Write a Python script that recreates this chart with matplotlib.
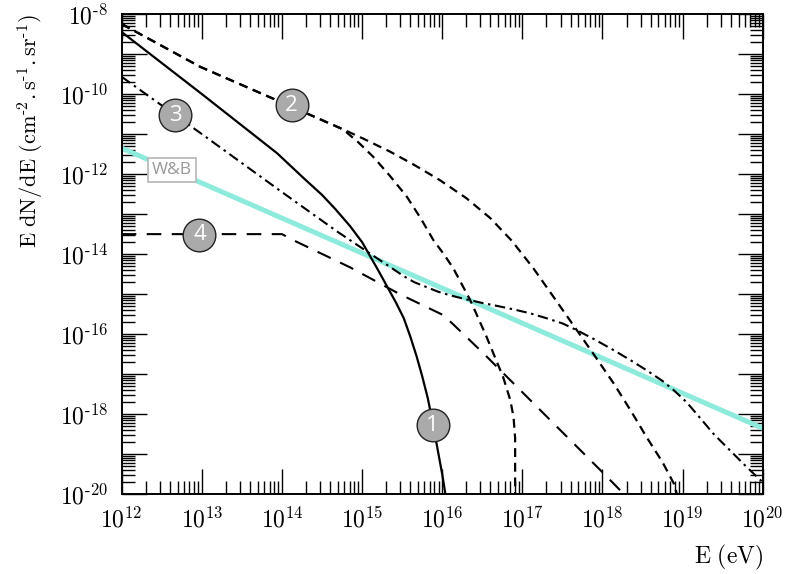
import numpy as np
import matplotlib
matplotlib.use('Agg')
import matplotlib.pyplot as plt
from matplotlib.ticker import FixedLocator, LogLocator, FuncFormatter, NullFormatter

plt.rcParams['mathtext.fontset'] = 'cm'

# curves, as log10(E / eV) and log10(E dN/dE)
logE1 = [12.0, 13.0, 13.94, 14.27, 14.5, 14.66, 14.85, 15.0, 15.10, 15.2, 15.31, 15.42, 15.52,
         15.6, 15.68, 15.75, 15.82, 15.88, 15.94, 16.0, 16.04]
logF1 = [-8.45, -10.0, -11.48, -12.1, -12.52, -12.86, -13.3, -13.7, -14.05, -14.4, -14.8, -15.2, -15.6,
         -16.05, -16.55, -17.05, -17.6, -18.2, -18.85, -19.5, -20.0]

logE2a = [12.0, 12.98, 13.93, 14.76, 15.0, 15.35, 15.65, 15.97, 16.3, 16.6, 16.87, 17.14, 17.4,
          17.68, 17.9, 18.14, 18.35, 18.55, 18.75, 18.89, 18.93]
logF2a = [-8.25, -9.32, -10.15, -10.88, -11.1, -11.44, -11.77, -12.15, -12.6, -13.1, -13.67, -14.36, -15.1,
          -15.9, -16.53, -17.23, -17.9, -18.57, -19.2, -19.73, -20.0]

logE2b = [12.0, 12.98, 13.93, 14.76, 14.95, 15.14, 15.35, 15.56, 15.73, 15.89, 16.02, 16.14, 16.35,
          16.55, 16.76, 16.85, 16.89, 16.91, 16.91]
logF2b = [-8.25, -9.32, -10.15, -10.88, -11.2, -11.57, -12.05, -12.57, -13.1, -13.65, -14.0, -14.36, -15.15,
          -16.05, -17.07, -17.65, -18.07, -18.6, -20.0]

logE3 = [12.0, 13.0, 14.0, 14.7, 15.2, 15.52, 15.65, 15.8, 15.95, 16.1, 16.3, 16.5, 16.7, 16.89, 17.1,
         17.3, 17.5, 17.68, 17.9, 18.14, 18.35, 18.55, 18.75, 18.89, 19.05, 19.2, 19.39, 19.6, 19.8, 20.0]
logF3 = [-9.57, -11.0, -12.45, -13.45, -14.12, -14.55, -14.7, -14.82, -14.94, -15.03, -15.13, -15.22, -15.3,
         -15.38, -15.48, -15.6, -15.73, -15.9, -16.13, -16.4, -16.65, -16.9, -17.17, -17.4, -17.7, -18.05,
         -18.5, -18.92, -19.32, -19.7]

logE4 = [12.0, 14.0, 14.14, 14.85, 15.47, 16.02, 16.5, 17.0, 17.5, 18.0, 18.27]
logF4 = [-13.5, -13.5, -13.65, -14.33, -15.0, -15.53, -16.45, -17.45, -18.45, -19.45, -20.0]

logE_wb = [12.0, 20.0]
logF_wb = [-11.35, -18.35]

# numbered markers and the W&B tag
marker_text = ['1', '2', '3', '4']
marker_logE = [15.88, 14.12, 12.67, 12.97]
marker_logF = [-18.28, -10.28, -10.53, -13.51]
wb_logE, wb_logF = 12.63, -11.89

p = lambda a: np.power(10.0, np.array(a))

fig = plt.figure(figsize=(7.95, 5.74), dpi=100)
ax = fig.add_axes([0.1531, 0.1389, 0.8063, 0.8367])
ax.set_xscale('log')
ax.set_yscale('log')

ax.plot(p(logE_wb), p(logF_wb), color='#8eebdc', lw=3.6, solid_capstyle='butt', zorder=2)
ax.plot(p(logE1), p(logF1), color='black', lw=1.6, zorder=3)
ax.plot(p(logE2a), p(logF2a), color='black', lw=1.6, dashes=(4, 2.6), zorder=3)
ax.plot(p(logE2b), p(logF2b), color='black', lw=1.6, dashes=(4, 2.6), zorder=3)
ax.plot(p(logE3), p(logF3), color='black', lw=1.5, dashes=(5, 2.2, 1.2, 2.2), zorder=3)
ax.plot(p(logE4), p(logF4), color='black', lw=1.5, dashes=(7, 5), zorder=3)

for t, xe, yf in zip(marker_text, marker_logE, marker_logF):
    ax.plot(10**xe, 10**yf, 'o', ms=23.5, mfc='#aaaaaa', mec='#222222', mew=1.0, zorder=5)
    ax.text(10**xe, 10**yf, t, color='white', fontsize=16, family='Open Sans',
            ha='center', va='center', zorder=6)

ax.text(10**wb_logE, 10**wb_logF, 'W&B', color='#999999', fontsize=12.5, family='Open Sans',
        ha='center', va='center', zorder=6,
        bbox=dict(facecolor='white', edgecolor='#bbbbbb', boxstyle='square,pad=0.22', lw=1.3))

ax.set_xlim(1e12, 1e20)
ax.set_ylim(1e-20, 1e-8)

ax.xaxis.set_major_locator(FixedLocator([10.0**k for k in range(12, 21)]))
ax.yaxis.set_major_locator(FixedLocator([10.0**k for k in range(-20, -7)]))
ax.xaxis.set_minor_locator(LogLocator(base=10, subs=np.arange(2, 10), numticks=50))
ax.yaxis.set_minor_locator(LogLocator(base=10, subs=np.arange(2, 10), numticks=50))
ax.xaxis.set_minor_formatter(NullFormatter())
ax.yaxis.set_minor_formatter(NullFormatter())
ax.xaxis.set_major_formatter(FuncFormatter(lambda v, pos: r'$10^{%d}$' % round(np.log10(v))))
ax.yaxis.set_major_formatter(FuncFormatter(
    lambda v, pos: r'$10^{\text{-}%d}$' % -round(np.log10(v)) if round(np.log10(v)) % 2 == 0 else ''))

ax.tick_params(which='both', direction='in', top=True, right=True, width=1.0, labelsize=17)
ax.tick_params(which='major', length=18)
ax.tick_params(which='minor', length=9.5)
ax.tick_params(axis='x', which='major', pad=9)
ax.tick_params(axis='y', which='major', pad=10)
for s in ax.spines.values():
    s.set_linewidth(1.4)

ax.set_xlabel(r'$\mathrm{E\ (eV)}$', fontsize=17, loc='right', labelpad=8)
ax.set_ylabel(r'$\mathrm{E\ dN/dE\ (cm^{\text{-}2}.s^{\text{-}1}.sr^{\text{-}1})}$',
              fontsize=16, loc='top', labelpad=10)

fig.savefig('out.png', dpi=100)
